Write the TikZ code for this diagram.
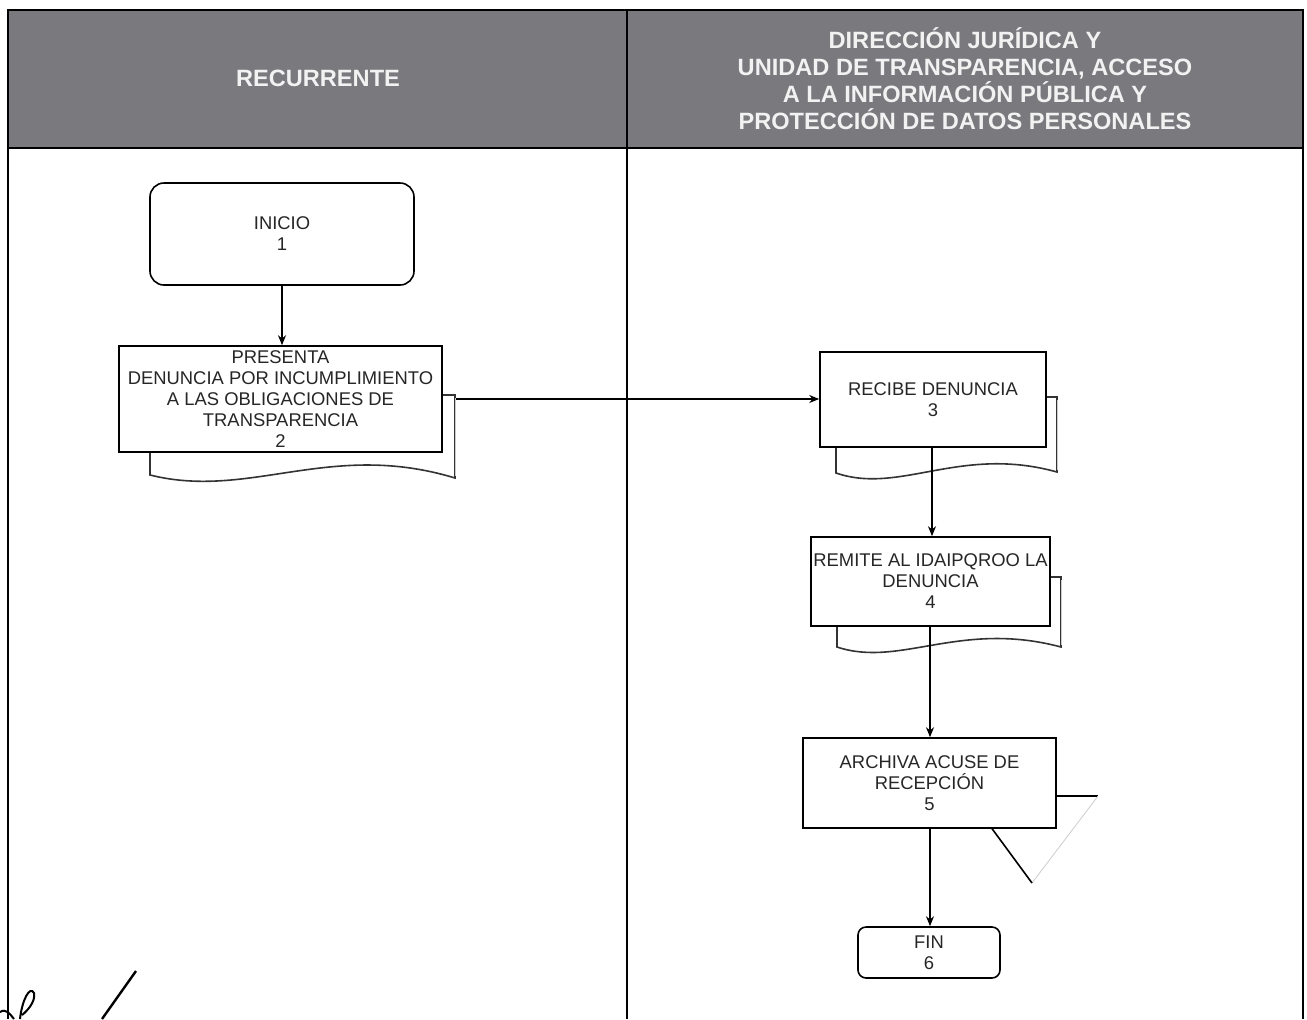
\documentclass[tikz,border=0pt]{standalone}
\usepackage{fontspec}
\setmainfont{Liberation Sans}
\usetikzlibrary{arrows.meta}
\definecolor{cabecera}{RGB}{121,121,126}
\tikzset{
  paso/.style={draw,thick,fill=white,align=center,inner sep=0pt,
    font=\fontsize{9.2}{10.5}\selectfont,text=black!85},
  terminal/.style={paso,rounded corners=6pt},
  titulo/.style={align=center,text=black!5,font=\bfseries\fontsize{11.8}{13.5}\selectfont},
  hoja/.style={thick,draw=black!80,fill=white},
  flecha/.style={thick,-{Stealth[length=5pt,width=4pt]}}
}
\begin{document}
\begin{tikzpicture}[x=0.5pt,y=-0.5pt]
\useasboundingbox (0,0) rectangle (1307,1019);
% cabecera y carriles
\fill[cabecera] (8,10) rectangle (1303,148);
\draw[thick] (8,1019) -- (8,10) -- (1303,10) -- (1303,1019);
\draw[thick] (8,148) -- (1303,148);
\draw[thick] (627,10) -- (627,1019);
\node[titulo] (recurrente) at (318,78) {RECURRENTE};
\node[titulo] (direccion) at (965,78.5) {DIRECCIÓN JURÍDICA Y\\UNIDAD DE TRANSPARENCIA, ACCESO\\A LA INFORMACIÓN PÚBLICA Y\\PROTECCIÓN DE DATOS PERSONALES};
% documentos detras de los pasos
\draw[hoja] (430,395) -- (455,395) -- (455,478) .. controls (330,440) and (250,500) .. (150,475) -- (150,440);
\draw[gray!40] (455,398) -- (455,476);
\draw[hoja] (1030,397) -- (1057,397) -- (1057,472) .. controls (960,445) and (900,495) .. (836,473) -- (836,440);
\draw[gray!40] (1057,400) -- (1057,470);
\draw[hoja] (1040,577) -- (1061,577) -- (1061,647) .. controls (960,620) and (900,668) .. (837,647) -- (837,620);
\draw[gray!40] (1061,580) -- (1061,645);
% archivo
\fill[white] (968,796) -- (1098,796) -- (1032,883) -- cycle;
\draw[thick] (1040,796) -- (1098,796);
\draw[gray!40] (1098,796) -- (1032,883);
\draw[thick] (1032,883) -- (968,796);
% pasos
\node[terminal,minimum width=132pt,minimum height=51pt,rounded corners=7pt] (inicio) at (282,234) {INICIO\\1};
\node[paso,minimum width=161.5pt,minimum height=53pt] (presenta) at (280.5,399) {PRESENTA\\DENUNCIA POR INCUMPLIMIENTO\\A LAS OBLIGACIONES DE\\TRANSPARENCIA\\2};
\node[paso,minimum width=113pt,minimum height=47.5pt] (recibe) at (933,399.5) {RECIBE DENUNCIA\\3};
\node[paso,minimum width=119.5pt,minimum height=44.5pt] (remite) at (930.5,581.5) {REMITE AL IDAIPQROO LA\\DENUNCIA\\4};
\node[paso,minimum width=126.5pt,minimum height=45pt] (archiva) at (929.5,783) {ARCHIVA ACUSE DE\\RECEPCIÓN\\5};
\node[terminal,minimum width=71pt,minimum height=25.5pt,rounded corners=4pt] (fin) at (929,952.5) {FIN\\6};
% flujo
\draw[flecha] (inicio.south) -- (inicio.south |- presenta.north);
\draw[flecha] ([xshift=6.5pt]presenta.east) -- (recibe.west |- presenta.east);
\draw[flecha] (recibe.south -| 932,0) -- (remite.north -| 932,0);
\draw[flecha] (remite.south -| 930,0) -- (archiva.north -| 930,0);
\draw[flecha] (archiva.south -| 930,0) -- (fin.north -| 930,0);
% firma
\draw[line width=1.2pt] (102,1019) -- (136,971);
\draw[line width=1pt] (0,1012) .. controls (6,1008) and (10,1014) .. (14,1019);
\draw[line width=1pt] (20,1019) .. controls (22,1000) and (30,985) .. (34,993) .. controls (36,1002) and (26,1012) .. (22,1015);
\end{tikzpicture}
\end{document}
